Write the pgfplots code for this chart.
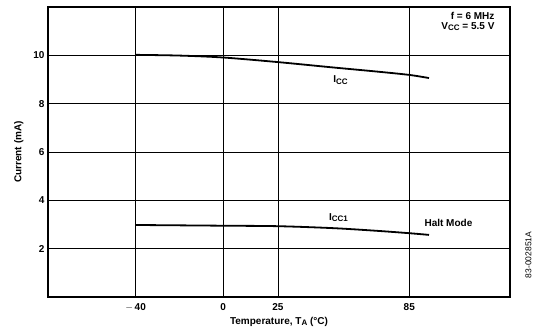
\documentclass[border=0pt]{standalone}
\usepackage{fontspec}
\setmainfont{Liberation Sans}
\usepackage{pgfplots}
\pgfplotsset{compat=1.18}
\newcommand{\sub}[1]{\raisebox{-0.25ex}{\fontsize{8}{9}\selectfont #1}}
\begin{document}
\begin{tikzpicture}
\begin{axis}[
  at={(0,0)}, anchor=south west,
  scale only axis,
  width=462pt, height=290pt,
  xmin=-80, xmax=131, ymin=0, ymax=12,
  xtick={-40,0,25,85},
  xticklabels={$-$\,40,0,25,85},
  ytick={2,4,6,8,10},
  major tick length=0pt,
  grid=major,
  major grid style={black, line width=0.6pt},
  axis line style={black, line width=1.3pt},
  /pgf/number format/assume math mode=true,
  tick label style={font=\bfseries\fontsize{10}{11}\selectfont},
  xticklabel style={yshift=-3pt},
  label style={font=\bfseries\fontsize{10}{11}\selectfont},
  xlabel={Temperature, T\sub{A} (°C)},
  ylabel={Current (mA)},
  xlabel style={yshift=1pt},
  ylabel style={yshift=3pt},
  clip=false,
]
\addplot[black, line width=1.8pt, smooth] coordinates {
  (-40,10.02) (-20,9.99) (0,9.91) (25,9.72) (50,9.50) (70,9.33) (85,9.19) (94,9.06)
};
\addplot[black, line width=1.8pt, smooth] coordinates {
  (-40,2.98) (0,2.95) (25,2.93) (50,2.85) (70,2.74) (85,2.64) (94,2.57)
};
\node[font=\bfseries\fontsize{10}{11}\selectfont] at (axis cs:53.6,8.98) {I\sub{CC}};
\node[font=\bfseries\fontsize{10}{11}\selectfont] at (axis cs:52.7,3.29) {I\sub{CC1}};
\node[font=\bfseries\fontsize{10}{11}\selectfont] at (axis cs:102.9,3.08) {Halt Mode};
\node[font=\bfseries\fontsize{10}{11}\selectfont, anchor=east, align=right] at (axis cs:125.5,11.4) {f = 6 MHz\\[-1pt]V\sub{CC} = 5.5 V};
\node[font=\fontsize{8.5}{9}\selectfont, rotate=90] at (axis cs:139.4,1.74) {83-002851A};
\end{axis}
\pgfresetboundingbox
\path[use as bounding box] (-48pt,-35pt) rectangle (487pt,297pt);
\end{tikzpicture}
\end{document}
